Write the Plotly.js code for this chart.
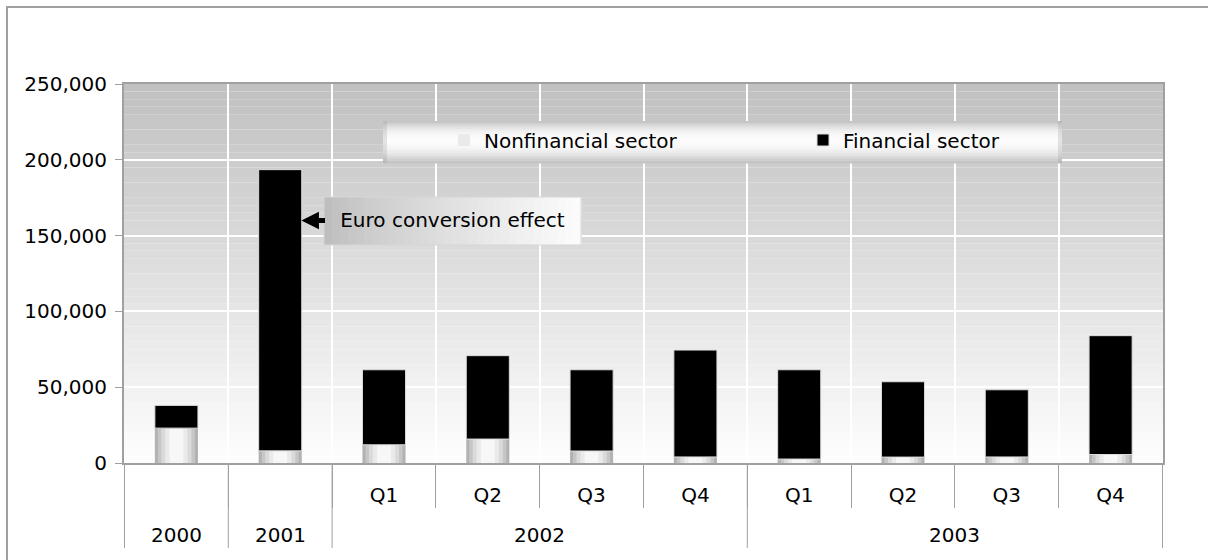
<!DOCTYPE html>
<html>
<head>
<meta charset="utf-8">
<script src="https://cdn.plot.ly/plotly-3.0.1.min.js"></script>
<style>
  html, body { margin: 0; padding: 0; background: #ffffff; }
  #chart { width: 1208px; height: 560px; }
</style>
</head>
<body>
<div id="chart"></div>
<script>
// ---- data ----
const years    = ['2000', '2001', '2002', '2002', '2002', '2002', '2003', '2003', '2003', '2003'];
const quarters = ['', '', 'Q1', 'Q2', 'Q3', 'Q4', 'Q1', 'Q2', 'Q3', 'Q4'];
const nonfinancial = [23000, 8000, 12000, 15800, 7900, 4000, 2600, 3900, 4000, 5600];
const financial    = [15000, 185500, 49500, 55000, 53600, 70500, 58900, 49700, 44300, 78400];
const seriesNames  = ['Nonfinancial sector', 'Financial sector'];
const noteText = 'Euro conversion effect';
const noteValue = 160000;
const yMax = 250000;

// ---- layout geometry ----
const W = 1208, H = 560;
const M = { l: 124, r: 45, t: 84, b: 97, autoexpand: false };
const plotW = W - M.l - M.r, plotH = H - M.t - M.b;
const px2x = p => (p - M.l) / plotW;
const py2y = p => (H - M.b - p) / plotH;
const FONT = 'DejaVu Sans, Verdana, sans-serif';
const FS = 20;
const grey = g => `rgb(${g},${g},${g})`;

// unique category keys, labelled with the quarter on the axis
const cats = years.map((y, i) => quarters[i] ? y + ' ' + quarters[i] : y);
const barW = 0.415;

// nonfinancial bars: concentric layers to imitate the cylinder shading
const layers = [
  { w: 1.00, c: 178 }, { w: 0.86, c: 198 }, { w: 0.70, c: 218 },
  { w: 0.52, c: 234 }, { w: 0.32, c: 247 }
];
const traces = layers.map((ly, i) => ({
  type: 'bar',
  x: cats,
  y: nonfinancial,
  width: barW * ly.w,
  name: seriesNames[0],
  showlegend: i === 3,
  marker: { color: grey(ly.c), line: { width: 0 } },
  hoverinfo: 'skip'
}));
traces.push({
  type: 'bar',
  x: cats,
  y: financial,
  base: nonfinancial,
  width: barW,
  name: seriesNames[1],
  marker: { color: '#000000', line: { color: '#dcdcdc', width: 1 } },
  hoverinfo: 'skip'
});

// ---- shapes ----
const shapes = [];
const NB = 50;
for (let i = 0; i < NB; i++) {
  shapes.push({
    type: 'rect', layer: 'below', xref: 'x domain', yref: 'y',
    x0: 0, x1: 1, y0: i * yMax / NB, y1: (i + 1) * yMax / NB,
    line: { width: 0 }, fillcolor: grey(Math.round(254 - 62 * (i + 0.5) / NB))
  });
}
// legend background (vertical gradient)
const lg = { x0: 383, x1: 1062, y0: 121, y1: 163 };
const NL = 21;
for (let j = 0; j < NL; j++) {
  const t = (j + 0.5) / NL;
  const d = (t - 0.45) / (t < 0.45 ? 0.45 : 0.55);
  const g = Math.round(252 - 60 * d * d);
  const ya = lg.y0 + j * (lg.y1 - lg.y0) / NL, yb = lg.y0 + (j + 1) * (lg.y1 - lg.y0) / NL + 0.5;
  shapes.push({
    type: 'rect', layer: 'above', xref: 'paper', yref: 'paper',
    x0: px2x(lg.x0), x1: px2x(lg.x1), y0: py2y(yb), y1: py2y(ya),
    line: { width: 0 }, fillcolor: grey(g)
  });
}
// subtle darker end caps of the legend box
[[lg.x0, lg.x0 + 4], [lg.x1 - 4, lg.x1]].forEach(([a, b]) => shapes.push({
  type: 'rect', layer: 'above', xref: 'paper', yref: 'paper',
  x0: px2x(a), x1: px2x(b), y0: py2y(lg.y1), y1: py2y(lg.y0),
  line: { width: 0 }, fillcolor: 'rgba(150,150,150,0.25)'
}));
// note box (horizontal gradient)
const nb = { x0: 324, x1: 581, y0: 197, y1: 245 };
const NN = 32;
for (let j = 0; j < NN; j++) {
  const t = (j + 0.5) / NN;
  const g = Math.round(188 + 64 * Math.pow(t, 0.8));
  const xa = nb.x0 + j * (nb.x1 - nb.x0) / NN, xb = nb.x0 + (j + 1) * (nb.x1 - nb.x0) / NN + 0.5;
  shapes.push({
    type: 'rect', layer: 'above', xref: 'paper', yref: 'paper',
    x0: px2x(xa), x1: px2x(xb), y0: py2y(nb.y1), y1: py2y(nb.y0),
    line: { width: 0 }, fillcolor: grey(g)
  });
}
shapes.push({
  type: 'rect', layer: 'above', xref: 'paper', yref: 'paper',
  x0: px2x(nb.x0), x1: px2x(nb.x1), y0: py2y(nb.y1), y1: py2y(nb.y0),
  line: { color: '#d6d6d6', width: 1 }, fillcolor: 'rgba(0,0,0,0)'
});
// year group dividers below the axis
const groupEdges = [-0.5];
years.forEach((y, i) => { if (i > 0 && y !== years[i - 1]) groupEdges.push(i - 0.5); });
groupEdges.push(years.length - 0.5);
groupEdges.forEach(e => shapes.push({
  type: 'line', layer: 'above', xref: 'x', yref: 'paper',
  x0: e, x1: e, y0: py2y(464), y1: py2y(548),
  line: { color: '#a0a0a0', width: 1 }
}));
// outer chart frame (cropped on right and bottom in the reference)
shapes.push({
  type: 'rect', layer: 'below', xref: 'paper', yref: 'paper',
  x0: px2x(7), x1: px2x(1220), y0: py2y(575), y1: py2y(7),
  line: { color: '#a0a0a0', width: 2 }, fillcolor: 'rgba(0,0,0,0)'
});

// ---- annotations: note with arrow, year labels ----
const tipX = (1 + 0.5 + barW / 2) / years.length; // right edge of the 2001 bar
const annotations = [{
  xref: 'paper', yref: 'y', x: tipX, y: noteValue,
  text: noteText, showarrow: true,
  arrowhead: 2, arrowsize: 0.7, arrowwidth: 5, arrowcolor: '#000000',
  ax: ((nb.x0 + nb.x1) / 2) - (M.l + tipX * plotW), ay: 0, standoff: 0,
  font: { family: FONT, size: FS, color: '#000000' },
  bgcolor: 'rgba(0,0,0,0)', borderwidth: 0,
  width: nb.x1 - nb.x0 - 2, height: nb.y1 - nb.y0 - 2, borderpad: 0
}];
const uniqYears = [...new Set(years)];
uniqYears.forEach(y => {
  const idx = years.map((v, i) => v === y ? i : -1).filter(i => i >= 0);
  const mid = (idx[0] + idx[idx.length - 1]) / 2;
  annotations.push({
    xref: 'x', yref: 'paper', x: mid, y: py2y(535),
    xanchor: 'center', yanchor: 'middle', showarrow: false,
    text: y, font: { family: FONT, size: FS, color: '#000000' }
  });
});

const layout = {
  width: W, height: H,
  margin: M,
  paper_bgcolor: '#ffffff',
  plot_bgcolor: 'rgba(0,0,0,0)',
  barmode: 'overlay',
  showlegend: true,
  font: { family: FONT, size: FS, color: '#000000' },
  legend: {
    orientation: 'h', xref: 'paper', yref: 'paper',
    x: px2x(444), y: py2y(140), xanchor: 'left', yanchor: 'middle',
    bgcolor: 'rgba(0,0,0,0)', borderwidth: 0,
    entrywidth: 314, entrywidthmode: 'pixels',
    font: { family: FONT, size: FS, color: '#000000' },
    traceorder: 'normal'
  },
  xaxis: {
    type: 'category',
    categoryorder: 'array', categoryarray: cats,
    tickmode: 'array', tickvals: cats, ticktext: quarters,
    tickson: 'boundaries',
    showgrid: true, gridcolor: '#ffffff', gridwidth: 2,
    ticks: 'outside', ticklen: 43, tickcolor: '#a0a0a0', tickwidth: 1,
    ticklabelstandoff: 13,
    showline: true, linecolor: '#a0a0a0', linewidth: 2, mirror: true,
    tickfont: { family: FONT, size: FS, color: '#000000' },
    fixedrange: true
  },
  yaxis: {
    range: [0, yMax], dtick: 50000, tick0: 0,
    tickformat: ',d',
    showgrid: true, gridcolor: '#ffffff', gridwidth: 2,
    zeroline: false,
    ticks: 'outside', ticklen: 7, tickcolor: '#a0a0a0',
    ticklabelstandoff: 4,
    showline: true, linecolor: '#a0a0a0', linewidth: 2, mirror: true,
    tickfont: { family: FONT, size: FS, color: '#000000' },
    fixedrange: true
  },
  shapes: shapes,
  annotations: annotations
};

Plotly.newPlot('chart', traces, layout, { displayModeBar: false, staticPlot: true });
</script>
</body>
</html>
